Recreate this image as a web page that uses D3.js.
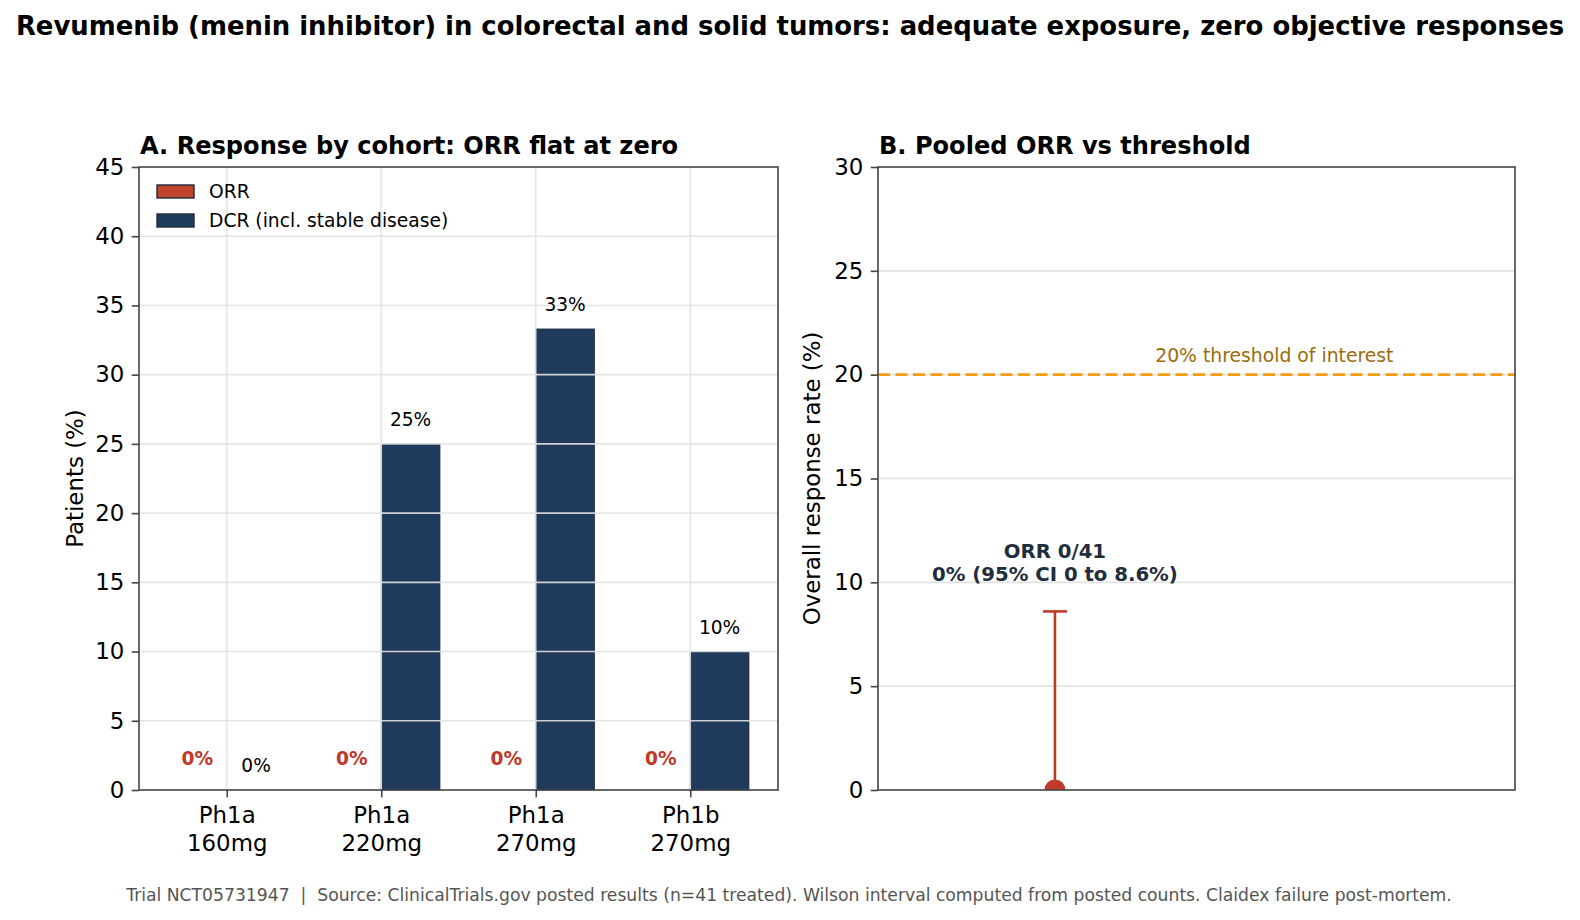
<!DOCTYPE html>
<html>
<head>
<meta charset="utf-8">
<script src="https://cdn.jsdelivr.net/npm/d3@7"></script>
<style>
  body { margin: 0; background: #fff; }
  svg text { font-family: "DejaVu Sans", sans-serif; white-space: pre; }
</style>
</head>
<body>
<div id="chart"></div>
<script>
// dati
const cohorts = [["Ph1a", "160mg"], ["Ph1a", "220mg"], ["Ph1a", "270mg"], ["Ph1b", "270mg"]];
const orrValues = [0, 0, 0, 0];
const dcrValues = [0, 25, 33.3, 10];
const orrLabels = ["0%", "0%", "0%", "0%"];
const dcrLabels = ["0%", "25%", "33%", "10%"];
const yTicksA = [0, 5, 10, 15, 20, 25, 30, 35, 40, 45];
const yTicksB = [0, 5, 10, 15, 20, 25, 30];
const legendItems = ["ORR", "DCR (incl. stable disease)"];

const pooledOrr = 0;
const pooledCiLow = 0;
const pooledCiHigh = 8.6;
const threshold = 20;

const width = 1580, height = 920;
const colOrr = "#c0432e", colDcr = "#1f3a5a", colRed = "#c0392b";
const spine = "#444", gridCol = "#e2e2e2";
const barW = 0.38;
const tickFont = "22.9px";

const svg = d3.select("#chart").append("svg")
    .attr("width", width)
    .attr("height", height);

// titolo generale
svg.append("text")
    .attr("x", width / 2).attr("y", 35)
    .attr("text-anchor", "middle")
    .style("font-size", "25.9px").style("font-weight", "bold")
    .text("Revumenib (menin inhibitor) in colorectal and solid tumors: adequate exposure, zero objective responses");

// nota in basso
svg.append("text")
    .attr("x", width / 2 - 1).attr("y", 901)
    .attr("text-anchor", "middle")
    .attr("fill", "#555")
    .style("font-size", "17.2px")
    .text("Trial NCT05731947  |  Source: ClinicalTrials.gov posted results (n=41 treated). Wilson interval computed from posted counts. Claidex failure post-mortem.");

function styleAxis(g) {
    g.select(".domain").remove();
    g.selectAll(".tick line").attr("stroke", spine).attr("stroke-width", 1.6);
    g.selectAll(".tick text").style("font-size", tickFont).attr("fill", "#000");
}

// ---------- Pannello A ----------
const A = { left: 139, right: 778, top: 167, bottom: 790 };
const xA = d3.scaleLinear().domain([-0.568, 3.568]).range([A.left, A.right]);
const yA = d3.scaleLinear().domain([0, 45]).range([A.bottom, A.top]);
const gA = svg.append("g");

// barre
gA.selectAll("rect.orr").data(orrValues).join("rect")
    .attr("class", "orr")
    .attr("x", (d, i) => xA(i - barW))
    .attr("width", xA(barW) - xA(0))
    .attr("y", d => yA(d))
    .attr("height", d => yA(0) - yA(d))
    .attr("fill", colOrr);

gA.selectAll("rect.dcr").data(dcrValues).join("rect")
    .attr("class", "dcr")
    .attr("x", (d, i) => xA(i))
    .attr("width", xA(barW) - xA(0))
    .attr("y", d => yA(d))
    .attr("height", d => yA(0) - yA(d))
    .attr("fill", colDcr)
    .attr("stroke", "#1c2b3c")
    .attr("stroke-width", 0.8);

// griglia sopra le barre (come matplotlib)
gA.selectAll("line.gy").data(yTicksA.slice(1, -1)).join("line")
    .attr("x1", A.left).attr("x2", A.right)
    .attr("y1", d => yA(d)).attr("y2", d => yA(d))
    .attr("stroke", gridCol).attr("stroke-opacity", 0.9).attr("stroke-width", 1.6);
gA.selectAll("line.gx").data(cohorts).join("line")
    .attr("x1", (d, i) => xA(i)).attr("x2", (d, i) => xA(i))
    .attr("y1", A.top).attr("y2", A.bottom)
    .attr("stroke", gridCol).attr("stroke-opacity", 0.9).attr("stroke-width", 1.6);

// etichette dei valori
gA.selectAll("text.orrlab").data(orrValues).join("text")
    .attr("x", (d, i) => xA(i - barW / 2))
    .attr("y", d => yA(d + 1.5) - 4)
    .attr("text-anchor", "middle")
    .attr("fill", colRed)
    .style("font-size", "18.6px").style("font-weight", "bold")
    .text((d, i) => orrLabels[i]);

gA.selectAll("text.dcrlab").data(dcrValues).join("text")
    .attr("x", (d, i) => xA(i + barW / 2))
    .attr("y", d => yA(d + 1) - 4)
    .attr("text-anchor", "middle")
    .attr("fill", "#000")
    .style("font-size", "18.6px")
    .text((d, i) => dcrLabels[i]);

// assi
const axA_y = gA.append("g").attr("transform", `translate(${A.left},0)`)
    .call(d3.axisLeft(yA).tickValues(yTicksA).tickSize(7.3).tickPadding(7.3));
styleAxis(axA_y);

const axA_x = gA.append("g").attr("transform", `translate(0,${A.bottom})`)
    .call(d3.axisBottom(xA).tickValues([0, 1, 2, 3]).tickSize(7.3).tickFormat(""));
styleAxis(axA_x);
axA_x.selectAll(".tick").append("text")
    .attr("text-anchor", "middle")
    .style("font-size", tickFont)
    .attr("fill", "#000")
    .selectAll("tspan").data(d => cohorts[d]).join("tspan")
    .attr("x", 0)
    .attr("y", (d, i) => 33 + i * 27.5)
    .text(d => d);

gA.append("rect")
    .attr("x", A.left).attr("y", A.top)
    .attr("width", A.right - A.left).attr("height", A.bottom - A.top)
    .attr("fill", "none").attr("stroke", spine).attr("stroke-width", 1.6);

gA.append("text")
    .attr("transform", `translate(75,${(A.top + A.bottom) / 2}) rotate(-90)`)
    .attr("text-anchor", "middle")
    .attr("dy", "0.35em")
    .style("font-size", tickFont)
    .text("Patients (%)");

gA.append("text")
    .attr("x", A.left + 1).attr("y", 154)
    .style("font-size", "24.1px").style("font-weight", "bold")
    .text("A. Response by cohort: ORR flat at zero");

// legenda
const leg = gA.append("g").attr("transform", `translate(157,185)`);
legendItems.forEach((name, i) => {
    leg.append("rect")
        .attr("x", 0).attr("y", i * 29)
        .attr("width", 37).attr("height", 13)
        .attr("fill", i === 0 ? colOrr : colDcr)
        .attr("stroke", "#1c2b3c").attr("stroke-width", 1.4);
    leg.append("text")
        .attr("x", 52).attr("y", i * 29 + 13)
        .style("font-size", "18.7px")
        .text(name);
});

// ---------- Pannello B ----------
const B = { left: 878, right: 1515, top: 167, bottom: 790 };
const xB = d3.scaleLinear().domain([-0.5, 1.3]).range([B.left, B.right]);
const yB = d3.scaleLinear().domain([0, 30]).range([B.bottom, B.top]);
const gB = svg.append("g");

svg.append("defs").append("clipPath").attr("id", "clipB")
    .append("rect")
    .attr("x", B.left).attr("y", B.top)
    .attr("width", B.right - B.left).attr("height", B.bottom - B.top);

gB.selectAll("line.gy").data(yTicksB.slice(1, -1)).join("line")
    .attr("x1", B.left).attr("x2", B.right)
    .attr("y1", d => yB(d)).attr("y2", d => yB(d))
    .attr("stroke", gridCol).attr("stroke-width", 1.6);

gB.append("line")
    .attr("x1", B.left).attr("x2", B.right)
    .attr("y1", yB(threshold)).attr("y2", yB(threshold))
    .attr("stroke", "#f39c12").attr("stroke-width", 2.8)
    .attr("stroke-dasharray", "12,5.5");

gB.append("text")
    .attr("x", xB(0.62)).attr("y", yB(threshold + 0.4) - 4)
    .attr("text-anchor", "middle")
    .attr("fill", "#9c6c0a")
    .style("font-size", "18.8px")
    .text("20% threshold of interest");

// barra d'errore (IC di Wilson)
const eb = gB.append("g").attr("clip-path", "url(#clipB)");
eb.append("line")
    .attr("x1", xB(0)).attr("x2", xB(0))
    .attr("y1", yB(pooledCiLow)).attr("y2", yB(pooledCiHigh))
    .attr("stroke", colRed).attr("stroke-width", 2.6);
eb.append("line")
    .attr("x1", xB(0) - 12).attr("x2", xB(0) + 12)
    .attr("y1", yB(pooledCiHigh)).attr("y2", yB(pooledCiHigh))
    .attr("stroke", colRed).attr("stroke-width", 2.6);
eb.append("circle")
    .attr("cx", xB(0)).attr("cy", yB(pooledOrr))
    .attr("r", 10.5)
    .attr("fill", colRed);

const ann = gB.append("text")
    .attr("text-anchor", "middle")
    .attr("fill", "#1f2d3d")
    .style("font-size", "19.7px").style("font-weight", "bold");
ann.append("tspan").attr("x", xB(0)).attr("y", yB(10) - 24).text("ORR 0/41");
ann.append("tspan").attr("x", xB(0)).attr("y", yB(10) - 1).text("0% (95% CI 0 to 8.6%)");

const axB_y = gB.append("g").attr("transform", `translate(${B.left},0)`)
    .call(d3.axisLeft(yB).tickValues(yTicksB).tickSize(7.3).tickPadding(7.3));
styleAxis(axB_y);

gB.append("rect")
    .attr("x", B.left).attr("y", B.top)
    .attr("width", B.right - B.left).attr("height", B.bottom - B.top)
    .attr("fill", "none").attr("stroke", spine).attr("stroke-width", 1.6);

gB.append("text")
    .attr("transform", `translate(812,${(B.top + B.bottom) / 2}) rotate(-90)`)
    .attr("text-anchor", "middle")
    .attr("dy", "0.35em")
    .style("font-size", tickFont)
    .text("Overall response rate (%)");

gB.append("text")
    .attr("x", B.left + 1).attr("y", 154)
    .style("font-size", "24.1px").style("font-weight", "bold")
    .text("B. Pooled ORR vs threshold");
</script>
</body>
</html>
